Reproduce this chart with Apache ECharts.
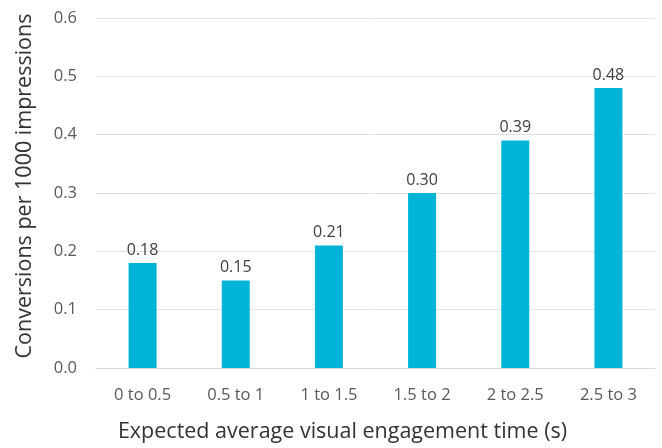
<!DOCTYPE html>
<html>
<head>
<meta charset="utf-8">
<script src="https://cdn.jsdelivr.net/npm/echarts@6/dist/echarts.min.js"></script>
<style>
  html, body { margin: 0; padding: 0; background: #fff; }
  #chart { width: 662px; height: 448px; }
</style>
</head>
<body>
<div id="chart"></div>
<script>
// Engagement-time buckets and the conversion rate measured in each
const categories = ['0 to 0.5', '0.5 to 1', '1 to 1.5', '1.5 to 2', '2 to 2.5', '2.5 to 3'];
const conversions = [0.18, 0.15, 0.21, 0.30, 0.39, 0.48];
const yTicks = [0, 0.1, 0.2, 0.3, 0.4, 0.5, 0.6];

const chart = echarts.init(document.getElementById('chart'), null, { renderer: 'canvas' });

chart.setOption({
  animation: false,
  grid: { left: 96, right: 7, top: 18, bottom: 78 },
  xAxis: {
    type: 'category',
    data: categories,
    name: 'Expected average visual engagement time (s)',
    nameLocation: 'middle',
    nameGap: 53,
    nameTextStyle: { fontFamily: 'Open Sans', fontSize: 21.5, color: '#333', padding: [0, 66, 0, 0] },
    axisLine: { show: true, lineStyle: { color: '#d9d9d9' } },
    axisTick: { show: false },
    axisLabel: { fontFamily: 'Open Sans', fontSize: 16.5, color: '#595959', margin: 19 }
  },
  yAxis: {
    type: 'value',
    min: yTicks[0],
    max: yTicks[yTicks.length - 1],
    interval: 0.1,
    name: 'Conversions per 1000 impressions',
    nameLocation: 'middle',
    nameGap: 60,
    nameTextStyle: { fontFamily: 'Open Sans', fontSize: 21.5, color: '#333', padding: [0, 0, 0, 14] },
    axisLine: { show: false },
    axisTick: { show: false },
    axisLabel: {
      fontFamily: 'Open Sans', fontSize: 16.5, color: '#595959', margin: 19,
      formatter: v => v.toFixed(1)
    },
    splitLine: { lineStyle: { color: '#e3e3e3' } }
  },
  series: [{
    type: 'bar',
    data: conversions,
    barWidth: 28,
    itemStyle: { color: '#00b4d8' },
    label: {
      show: true,
      position: 'top',
      distance: 5,
      fontFamily: 'Open Sans',
      fontSize: 16,
      color: '#404040',
      formatter: p => p.value.toFixed(2)
    }
  }]
});
</script>
</body>
</html>
